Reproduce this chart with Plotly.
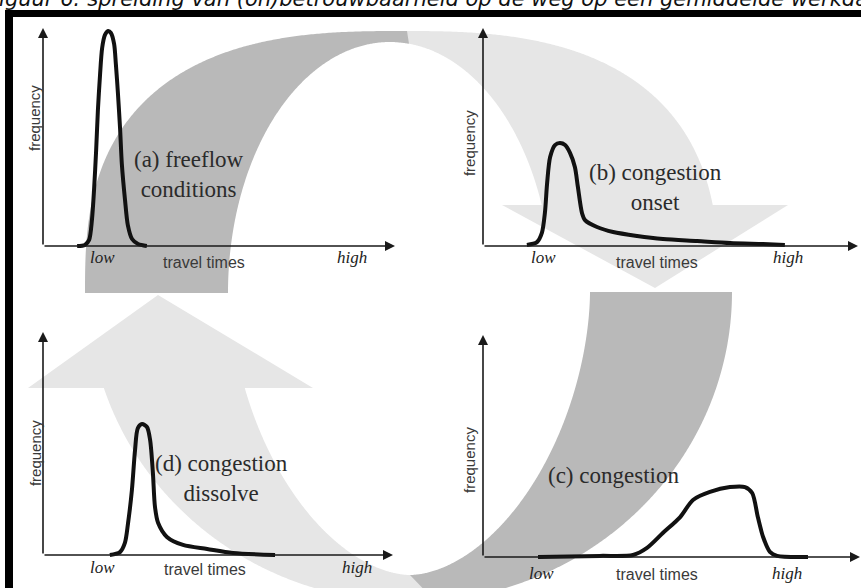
import numpy as np
import plotly.graph_objects as go

W, H = 861, 588

# ---------------- data (travel time 0-100, frequency 0-100 per panel) ----------------
PANEL_KEYS = ["a", "b", "c", "d"]
PANEL_TITLES = {
    "a": "(a) freeflow<br>conditions",
    "b": "(b) congestion<br>onset",
    "c": "(c) congestion",
    "d": "(d) congestion<br>dissolve",
}
A_TIME = [9.7, 11.9, 13.1, 13.9, 14.5, 15.1, 15.6, 16.2, 16.8, 17.6, 18.5, 19.3, 20.2, 20.7, 21.3, 21.9, 22.4, 23.3, 24.1, 25.3, 27.0, 29.5]
A_FREQ = [0, 0.5, 2.8, 11.9, 25.7, 44.0, 62.4, 78.4, 90.8, 96.8, 98.6, 97.7, 92.7, 83.5, 69.7, 53.7, 37.6, 21.1, 9.6, 3.2, 0.9, 0]
B_TIME = [11.7, 14.4, 15.7, 16.5, 17.1, 17.9, 19.2, 20.5, 21.9, 23.2, 24.5, 25.3, 26.4, 27.2, 30.4, 34.7, 41.1, 48.0, 57.1, 65.9, 74.7, 80.5]
B_FREQ = [0.5, 1.8, 6.0, 15.1, 28.9, 40.8, 46.3, 47.2, 46.3, 42.7, 36.2, 27.1, 15.1, 11.9, 8.7, 6.4, 4.6, 3.2, 2.3, 1.4, 0.9, 0.5]
C_TIME = [14.6, 31.0, 39.8, 43.5, 47.7, 52.3, 55.7, 60.2, 65.5, 69.5, 71.4, 72.9, 74.3, 76.1, 78.0, 86.2]
C_FREQ = [0, 0.5, 0.9, 4.1, 10.8, 18.0, 25.7, 29.3, 31.5, 31.5, 28.8, 18.0, 9.0, 2.3, 0.5, 0]
D_TIME = [19.1, 22.0, 23.4, 24.3, 25.4, 26.3, 27.1, 28.3, 29.7, 30.6, 31.4, 32.0, 32.9, 35.4, 40.0, 46.9, 54.3, 66.3]
D_FREQ = [0, 1.3, 5.4, 14.3, 29.1, 47.1, 56.9, 58.7, 57.4, 51.6, 36.8, 21.5, 14.3, 8.1, 4.5, 2.7, 0.9, 0]

TICK_LABELS = ["low", "high"]
LOW_POS = {"a": 17.0, "b": 16.0, "c": 15.6, "d": 17.1}
HIGH_POS = {"a": 87.8, "b": 81.3, "c": 80.6, "d": 89.7}
X_TITLE = "travel times"
X_TITLE_POS = {"a": 45.7, "b": 46.4, "c": 46.2, "d": 46.3}
Y_TITLE = "frequency"
Y_TITLE_POS = {"a": 58.7, "b": 47.2, "c": 43.7, "d": 45.7}
TITLE_POS = {"a": (41.6, 33.0), "b": (46.1, 26.8), "c": (34.5, 36.9), "d": (51.1, 34.1)}
CAPTION = "Figuur 6: spreiding van (on)betrouwbaarheid op de weg op een gemiddelde werkdag"

CURVES = {"a": (A_TIME, A_FREQ), "b": (B_TIME, B_FREQ), "c": (C_TIME, C_FREQ), "d": (D_TIME, D_FREQ)}

# ---------------- layout geometry (pixels) ----------------
# origin x, origin y, x-axis tip, y-axis tip
GEOM = {"a": (43, 246, 395, 28), "b": (483, 246, 858, 28),
        "c": (483, 557, 860, 335), "d": (43, 555, 393, 332)}
LABEL_DY = {"a": (11, 16), "b": (11, 16), "c": (16, 17), "d": (12, 14)}
YLAB_DX = {"a": 9, "b": 14, "c": 13, "d": 8}

DARK = "#b9b9b9"
LIGHT = "#e6e6e6"
INK = "#111111"


def P(x, y):
    return f"{x / W:.5f},{1 - y / H:.5f}"


def se_pts(g, t0, t1, up, num=300):
    cx, cy, rx, ry, n = g
    t = np.linspace(t0, t1, num)
    c, s = np.cos(t), np.sin(t)
    x = cx + rx * np.sign(c) * np.abs(c) ** (2 / n)
    dy = ry * np.abs(s) ** (2 / n)
    y = cy - dy if up else cy + dy
    return list(zip(x, y))


def t_at_x(g, x):
    cx, cy, rx, ry, n = g
    v = (x - cx) / rx
    c = np.sign(v) * np.abs(v) ** (n / 2)
    return float(np.arccos(np.clip(c, -1, 1)))


def t_at_y(g, y, right=True):
    cx, cy, rx, ry, n = g
    v = min(abs(y - cy) / ry, 1)
    t = float(np.arcsin(v ** (n / 2)))
    return t if right else np.pi - t


def poly(pts):
    return "M " + " L ".join(P(x, y) for x, y in pts) + " Z"


# top arc (a -> b)
TO = (402, 293, 317, 262, 2.7)
TI = (390, 293, 162, 251, 2.0)
# bottom arc (c -> d)
BO = (410, 292, 322, 310, 2.0)
BI = (410, 292, 180, 283, 1.8)

dark_top = se_pts(TO, np.pi, t_at_x(TO, 407), True) + se_pts(TI, t_at_x(TI, 409), np.pi, True)
light_top = se_pts(TO, t_at_x(TO, 395), t_at_y(TO, 205), True) + se_pts(TI, t_at_y(TI, 205), t_at_x(TI, 397), True)
head_top = [(502, 205), (788, 205), (655, 288)]

dark_bot = se_pts(BO, 0, t_at_x(BO, 435), False) + se_pts(BI, t_at_x(BI, 410), 0, False)
light_bot = se_pts(BO, t_at_x(BO, 445), t_at_y(BO, 388, False), False) + \
    se_pts(BI, t_at_y(BI, 388, False), t_at_x(BI, 420), False)
head_bot = [(28, 388), (313, 388), (158, 295)]

shapes = []
for pts, col in [(light_top, LIGHT), (head_top, LIGHT), (light_bot, LIGHT), (head_bot, LIGHT),
                 (dark_top, DARK), (dark_bot, DARK)]:
    shapes.append(dict(type="path", path=poly(pts), xref="paper", yref="paper",
                       fillcolor=col, line=dict(width=0), layer="below"))
# black frame of the scanned figure
shapes.append(dict(type="rect", xref="paper", yref="paper", x0=5 / W, x1=1.01, y0=1 - 17 / H, y1=1 - 10 / H,
                   fillcolor="black", line=dict(width=0), layer="above"))
shapes.append(dict(type="rect", xref="paper", yref="paper", x0=5 / W, x1=13 / W, y0=-0.01, y1=1 - 10 / H,
                   fillcolor="black", line=dict(width=0), layer="above"))

fig = go.Figure()
layout = dict(width=W, height=H, margin=dict(l=0, r=0, t=0, b=0), paper_bgcolor="white",
              plot_bgcolor="rgba(0,0,0,0)", showlegend=False, shapes=shapes)
annotations = []
PAD = 5
for i, k in enumerate(PANEL_KEYS, start=1):
    ox, oy, tx, ty = GEOM[k]
    sx = (tx - ox) / 100
    sy = (oy - ty) / 100
    xa = "x" if i == 1 else f"x{i}"
    ya = "y" if i == 1 else f"y{i}"
    xk = "xaxis" if i == 1 else f"xaxis{i}"
    yk = "yaxis" if i == 1 else f"yaxis{i}"
    layout[xk] = dict(domain=[(ox - PAD * sx) / W, tx / W], range=[-PAD, 100], visible=False,
                      anchor=ya, fixedrange=True)
    layout[yk] = dict(domain=[1 - (oy + PAD * sy) / H, 1 - ty / H], range=[-PAD, 100], visible=False,
                      anchor=xa, fixedrange=True)
    t, f = CURVES[k]
    fig.add_trace(go.Scatter(x=t, y=f, mode="lines", xaxis=xa, yaxis=ya,
                             line=dict(color=INK, width=4, shape="spline", smoothing=0.8),
                             hoverinfo="skip"))
    # axes with arrowheads
    for (x, y) in [(100, 0), (0, 100)]:
        annotations.append(dict(x=x, y=y, ax=0, ay=0, xref=xa, yref=ya, axref=xa, ayref=ya,
                                text="", showarrow=True, arrowhead=2, arrowsize=1.25,
                                arrowwidth=1.6, arrowcolor="#1a1a1a"))
    dl, dt = LABEL_DY[k]
    for lab, pos in zip(TICK_LABELS, [LOW_POS[k], HIGH_POS[k]]):
        annotations.append(dict(x=pos, y=0, xref=xa, yref=ya, yshift=-dl, yanchor="middle",
                                text=f"<i>{lab}</i>", showarrow=False,
                                font=dict(family="Liberation Serif", size=17, color="#222")))
    annotations.append(dict(x=X_TITLE_POS[k], y=0, xref=xa, yref=ya, yshift=-dt, yanchor="middle",
                            text=X_TITLE, showarrow=False,
                            font=dict(family="Liberation Sans", size=16, color="#3a3a3a")))
    annotations.append(dict(x=0, y=Y_TITLE_POS[k], xref=xa, yref=ya, xshift=-YLAB_DX[k],
                            text=Y_TITLE, textangle=-90, showarrow=False,
                            font=dict(family="Liberation Sans", size=15, color="#3a3a3a")))
    tx_, ty_ = TITLE_POS[k]
    annotations.append(dict(x=tx_, y=ty_, xref=xa, yref=ya, text=PANEL_TITLES[k], showarrow=False,
                            font=dict(family="Liberation Serif", size=23, color="#2b2b2b")))

annotations.append(dict(x=-15 / W, y=1 - 13.5 / H, xref="paper", yref="paper", xanchor="left",
                        yanchor="bottom", text=f"<i>{CAPTION}</i>", showarrow=False,
                        font=dict(family="DejaVu Sans", size=21, color="#111")))
layout["annotations"] = annotations
fig.update_layout(**layout)
fig.write_html("out.html", config={"displayModeBar": False},
               post_script="document.body.style.margin='0';document.body.style.overflow='hidden';")
